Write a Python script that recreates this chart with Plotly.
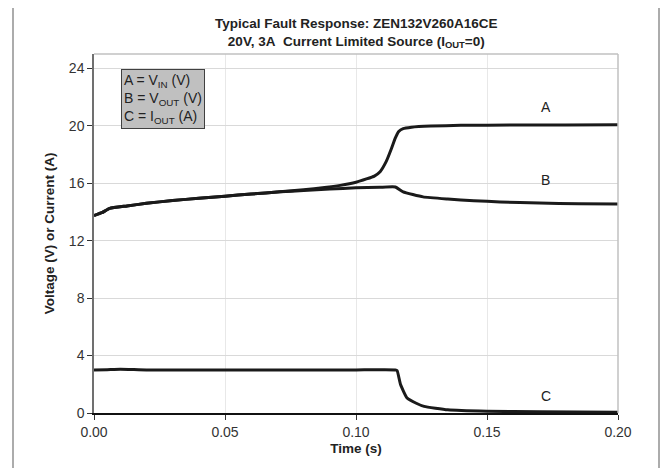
import plotly.graph_objects as go

# Time (s)
t_a = [0.000, 0.003, 0.006, 0.0126, 0.02, 0.03, 0.04, 0.05, 0.06, 0.071, 0.08, 0.088, 0.094, 0.100, 0.104,
       0.1070, 0.1092, 0.1115, 0.1135, 0.1149, 0.1163, 0.118, 0.1212, 0.1285, 0.14, 0.16, 0.18, 0.200]
v_in = [13.75, 13.95, 14.25, 14.42, 14.6, 14.8, 14.95, 15.1, 15.25, 15.4, 15.55, 15.7, 15.85, 16.07, 16.3,
        16.5, 16.8, 17.5, 18.4, 19.1, 19.6, 19.8, 19.9, 19.98, 20.03, 20.05, 20.06, 20.07]

t_b = [0.000, 0.003, 0.006, 0.0126, 0.02, 0.03, 0.04, 0.05, 0.06, 0.071, 0.08, 0.09, 0.100, 0.109, 0.115,
       0.118, 0.1256, 0.135, 0.145, 0.155, 0.170, 0.185, 0.200]
v_out = [13.75, 13.95, 14.25, 14.42, 14.6, 14.8, 14.95, 15.1, 15.25, 15.4, 15.5, 15.6, 15.68, 15.72, 15.74,
         15.4, 15.05, 14.9, 14.78, 14.7, 14.62, 14.57, 14.55]

t_c = [0.000, 0.005, 0.010, 0.020, 0.050, 0.080, 0.100, 0.1150, 0.1157, 0.117, 0.1195, 0.123, 0.126, 0.135,
       0.150, 0.170, 0.200]
i_out = [3.0, 3.02, 3.05, 3.0, 3.0, 3.0, 3.0, 3.0, 2.95, 1.98, 1.04, 0.68, 0.46, 0.22, 0.12, 0.08, 0.05]

x_ticks = [0.00, 0.05, 0.10, 0.15, 0.20]
x_tick_labels = ["0.00", "0.05", "0.10", "0.15", "0.20"]
y_ticks = [0, 4, 8, 12, 16, 20, 24]

labels = ["A", "B", "C"]
label_x = [0.1725, 0.1725, 0.1725]
label_y = [21.3, 16.2, 1.2]

line_color = "#1a1a1a"
font_family = "Liberation Sans, Arial, sans-serif"

# The page body adds an 8 px offset; the figure is sized to compensate (no scrollbars).
W, H = 652, 460
ML, MR, MT, MB = 86, 42, 46, 55
PW = W - ML - MR
PH = H - MT - MB

def px(xpix):
    return (xpix - 8 - ML) / PW

def py(ypix):
    return (H - MB + 8 - ypix) / PH

fig = go.Figure()
for tx, vy in [(t_a, v_in), (t_b, v_out), (t_c, i_out)]:
    fig.add_trace(go.Scatter(x=tx, y=vy, mode="lines",
                             line=dict(color=line_color, width=3, shape="spline", smoothing=0.4),
                             showlegend=False, hoverinfo="skip"))

for lab, lx, ly in zip(labels, label_x, label_y):
    fig.add_annotation(x=lx, y=ly, text=lab, showarrow=False, xref="x", yref="y",
                       font=dict(size=14, color="#222", family=font_family))

# Legend box
fig.add_annotation(
    xref="paper", yref="paper", x=px(121), y=py(69),
    xanchor="left", yanchor="top", align="left", showarrow=False,
    text="A = V<sub>IN</sub> (V)<br>B = V<sub>OUT</sub> (V)<br>C = I<sub>OUT</sub> (A)",
    font=dict(size=14, color="#222", family=font_family),
    bgcolor="#c0c0c0", bordercolor="#404040", borderwidth=1, borderpad=2,
)

# Title
fig.add_annotation(
    xref="paper", yref="paper", x=0.5, y=py(14), xanchor="center", yanchor="top",
    showarrow=False, align="center",
    text="<b>Typical Fault Response: ZEN132V260A16CE</b><br><b>20V, 3A\u00a0\u00a0Current Limited Source (I<sub>OUT</sub>=0)</b>",
    font=dict(size=13.5, color="#222", family=font_family),
)

# Plot area border (top and right, light gray)
fig.add_shape(type="line", xref="paper", yref="paper", x0=0, x1=1, y0=1, y1=1, line=dict(color="#c0c0c0", width=1.5))
fig.add_shape(type="line", xref="paper", yref="paper", x0=1, x1=1, y0=0, y1=1, line=dict(color="#c0c0c0", width=1.5))
# Outer chart frame (left & right sides)
fig.add_shape(type="line", xref="paper", yref="paper", x0=px(13), x1=px(13), y0=-0.3, y1=1.3,
              line=dict(color="#909090", width=1.5))
fig.add_shape(type="line", xref="paper", yref="paper", x0=px(659), x1=px(659), y0=-0.3, y1=1.3,
              line=dict(color="#909090", width=1.5))

fig.update_layout(
    width=W, height=H,
    margin=dict(l=ML, r=MR, t=MT, b=MB),
    paper_bgcolor="white", plot_bgcolor="white",
    font=dict(family=font_family, color="#222", size=13),
    xaxis=dict(range=[0, 0.2], tickvals=x_ticks, ticktext=x_tick_labels, showgrid=True, gridcolor="#e8e8e8",
               gridwidth=1, zeroline=False, showline=True, linecolor="#111", linewidth=1.5,
               ticks="outside", ticklen=5, tickcolor="#333", tickfont=dict(size=14, color="#333"),
               title=dict(text="<b>Time (s)</b>", font=dict(size=13.5), standoff=5)),
    yaxis=dict(range=[0, 25], tickvals=y_ticks, showgrid=True, gridcolor="#d9d9d9", gridwidth=1,
               zeroline=False, showline=True, linecolor="#707070", linewidth=1.5,
               ticks="outside", ticklen=5, tickcolor="#333", tickfont=dict(size=14, color="#333"),
               title=dict(text="<b>Voltage (V) or Current (A)</b>", font=dict(size=13.5), standoff=11)),
)

fig.write_html("out.html")
